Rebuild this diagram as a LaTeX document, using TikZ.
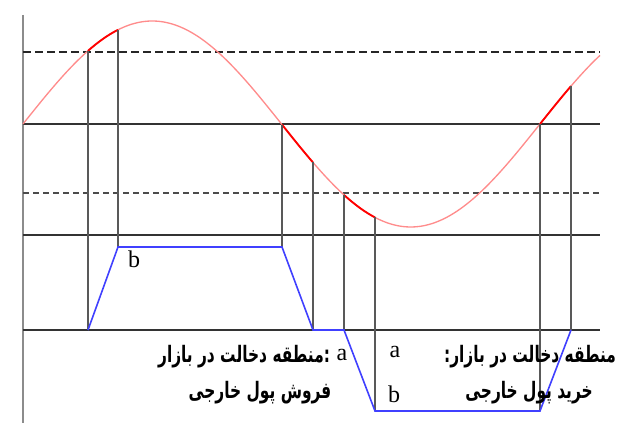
\documentclass[tikz,border=0pt]{standalone}
\usepackage{fontspec}
\newfontfamily\fafont[Script=Arabic]{DejaVu Sans}
\newfontfamily\latinserif{Liberation Serif}
\TeXXeTstate=1
\tikzset{every picture/.style={line width=0.75pt}}

\begin{document}
\begin{tikzpicture}[x=0.75pt,y=0.75pt,yscale=-1,xscale=1,
    declare function={wave(\t)=124-103*sin((\t-23)/517*360);},
    level/.style={draw=black!80,line width=1pt},
    drop/.style={draw=black!65,line width=1pt},
    blueline/.style={draw=blue!75,line width=1.2pt},
    fatext/.style={inner sep=0.75pt,anchor=base,xscale=0.68,font=\fafont\bfseries\fontsize{17}{19}\selectfont},
    lettext/.style={inner sep=0.75pt,anchor=base,font=\latinserif\fontsize{18}{20}\selectfont}]
    \useasboundingbox (0,0) rectangle (619,423);
    % axis
    \draw[draw=black!45,line width=1.5pt] (23,15) -- (23,423);
    % levels
    \draw[black!85,line width=1.5pt,dash pattern=on 6pt off 3pt] (23,52) -- (600,52);
    \draw[level] (23,124) -- (600,124);
    \draw[black!70,line width=1.1pt,dash pattern=on 4.5pt off 3pt] (23,193) -- (600,193);
    \draw[level] (23,235) -- (600,235);
    \draw[level] (23,330) -- (600,330);
    % wave
    \draw[red!45,line width=1pt] plot[smooth,samples=120,domain=23:600] (\x,{wave(\x)});
    \foreach \a/\b in {88/118,282/313,344/375,540/571}
      \draw[red,line width=1.4pt] plot[smooth,samples=20,domain=\a:\b] (\x,{wave(\x)});
    % drops from the wave
    \foreach \xx/\yy in {88/330,118/247,282/247,313/330,344/330,375/411,540/411,571/330}
      \draw[drop] (\xx,{wave(\xx)}) -- (\xx,\yy);
    % intervention path
    \coordinate (s1) at (88,330);
    \coordinate (s2) at (118,247);
    \coordinate (s3) at (282,247);
    \coordinate (s4) at (313,330);
    \coordinate (s5) at (344,330);
    \coordinate (s6) at (375,411);
    \coordinate (s7) at (540,411);
    \coordinate (s8) at (571,330);
    \draw[blueline] (s1) -- (s2) -- (s3) -- (s4) -- (s5) -- (s6) -- (s7) -- (s8);
    % labels
    \node[lettext] (bup) at (134,268) {b};
    \node[fatext,anchor=base east] (sell1) at (331,363) {\beginR منطقه دخالت در بازار\endR:};
    \node[lettext,anchor=base west] (asell) at (335,361) {a};
    \node[fatext] (sell2) at (260,399) {\beginR فروش پول خارجی\endR};
    \node[lettext] (abuy) at (395,358) {a};
    \node[lettext] (bbuy) at (394,403) {b};
    \node[fatext,anchor=base east] (buy1) at (617,363) {\beginR منطقه دخالت در بازار:\endR};
    \node[fatext] (buy2) at (529,399) {\beginR خرید پول خارجی\endR};
\end{tikzpicture}
\end{document}
